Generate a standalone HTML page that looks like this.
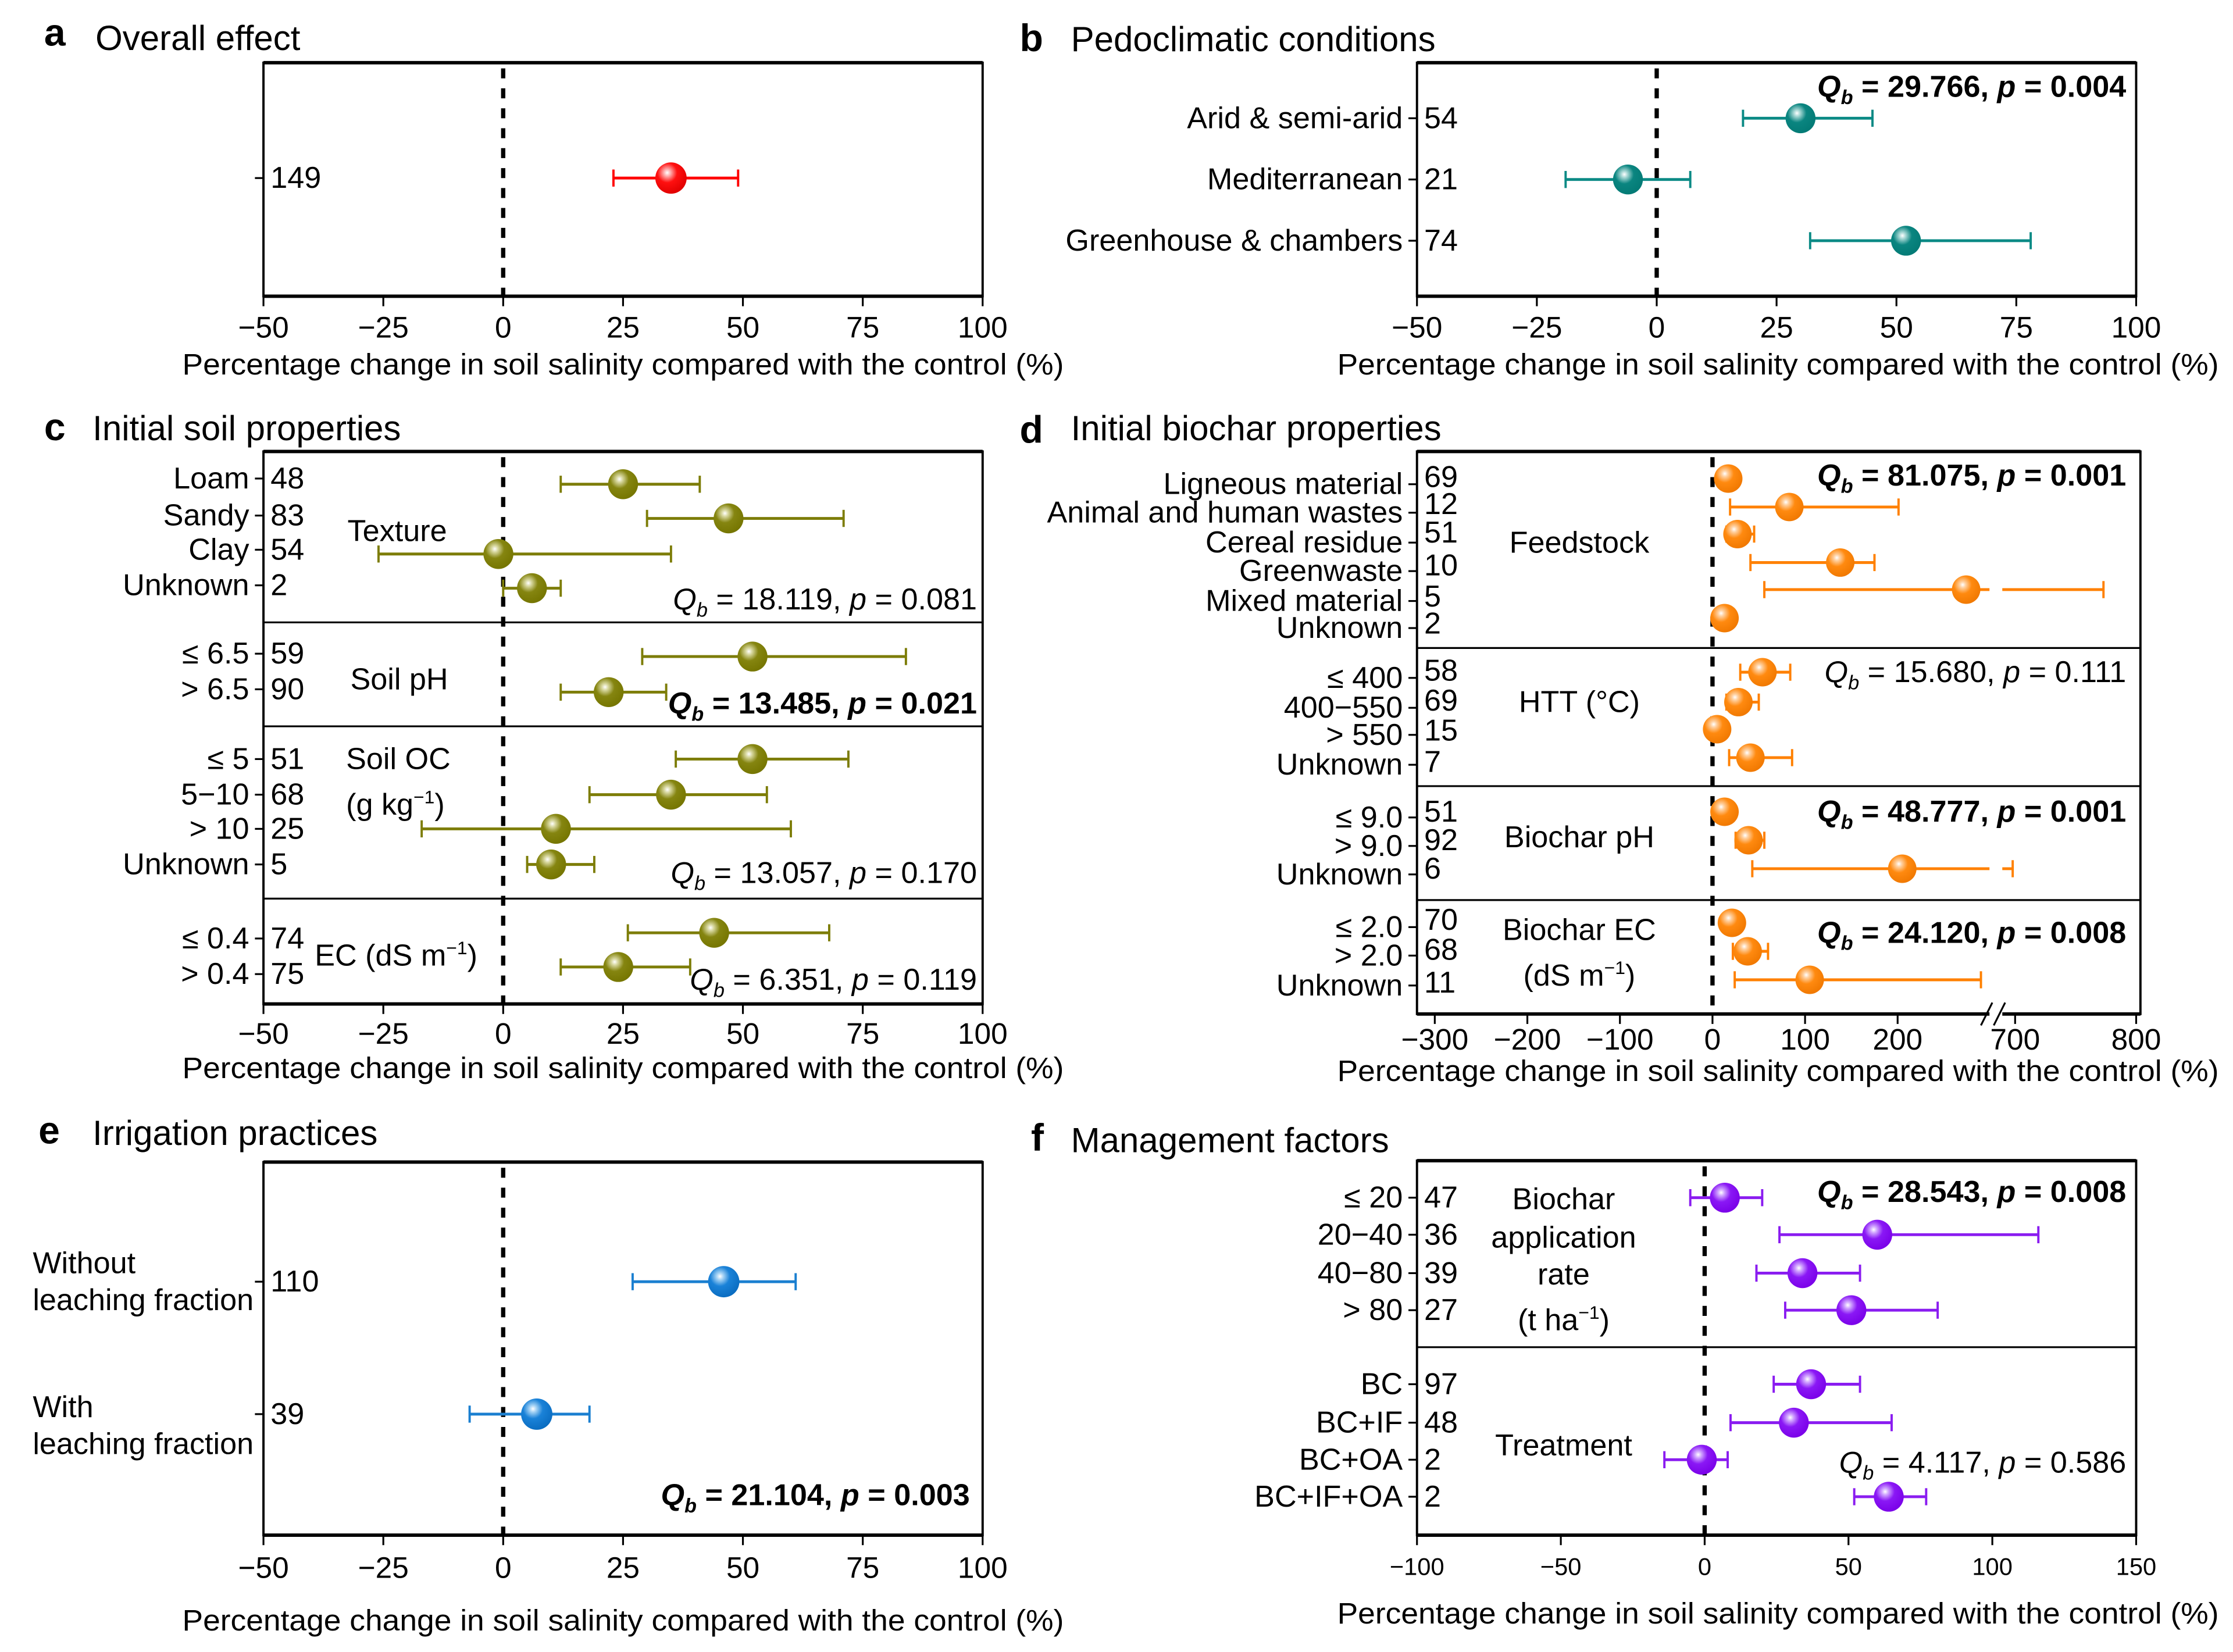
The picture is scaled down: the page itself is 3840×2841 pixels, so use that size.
<!DOCTYPE html>
<html><head><meta charset="utf-8"><style>
html,body{margin:0;padding:0;background:#fff;}
svg{display:block;font-family:"Liberation Sans",Arial,sans-serif;}
text{fill:#000;}
</style></head><body>
<svg id="fig" width="3840" height="2841" viewBox="0 0 1568 1160" xmlns="http://www.w3.org/2000/svg">
<defs>
<radialGradient id="g-red" cx="0.38" cy="0.33" r="0.7"><stop offset="0" stop-color="#fff"/><stop offset="0.15" stop-color="#ffb0b0"/><stop offset="0.45" stop-color="#ff1010"/><stop offset="1" stop-color="#e00000"/></radialGradient>
<radialGradient id="g-teal" cx="0.38" cy="0.33" r="0.7"><stop offset="0" stop-color="#fff"/><stop offset="0.15" stop-color="#a8d8d5"/><stop offset="0.45" stop-color="#0a8580"/><stop offset="1" stop-color="#037a75"/></radialGradient>
<radialGradient id="g-olive" cx="0.38" cy="0.33" r="0.7"><stop offset="0" stop-color="#fff"/><stop offset="0.15" stop-color="#d8d8a0"/><stop offset="0.45" stop-color="#858510"/><stop offset="1" stop-color="#757500"/></radialGradient>
<radialGradient id="g-orange" cx="0.38" cy="0.33" r="0.7"><stop offset="0" stop-color="#fff"/><stop offset="0.15" stop-color="#ffd0a0"/><stop offset="0.45" stop-color="#ff8a10"/><stop offset="1" stop-color="#f07800"/></radialGradient>
<radialGradient id="g-blue" cx="0.38" cy="0.33" r="0.7"><stop offset="0" stop-color="#fff"/><stop offset="0.15" stop-color="#a8d4f5"/><stop offset="0.45" stop-color="#1a82d8"/><stop offset="1" stop-color="#0a6cc0"/></radialGradient>
<radialGradient id="g-purple" cx="0.38" cy="0.33" r="0.7"><stop offset="0" stop-color="#fff"/><stop offset="0.15" stop-color="#d2a8ff"/><stop offset="0.45" stop-color="#8a18f5"/><stop offset="1" stop-color="#7a00e8"/></radialGradient>
</defs>

<!-- Panel titles -->
<text x="31" y="32" font-size="27" font-weight="bold">a</text>
<text x="67" y="35" font-size="24.5">Overall effect</text>
<text x="716" y="36" font-size="27" font-weight="bold">b</text>
<text x="752" y="36" font-size="24.5">Pedoclimatic conditions</text>
<text x="31" y="309" font-size="27" font-weight="bold">c</text>
<text x="65" y="309" font-size="24.5">Initial soil properties</text>
<text x="716" y="311" font-size="27" font-weight="bold">d</text>
<text x="752" y="309" font-size="24.5">Initial biochar properties</text>
<text x="27" y="803" font-size="27" font-weight="bold">e</text>
<text x="65" y="804" font-size="24.5">Irrigation practices</text>
<text x="724" y="808" font-size="27" font-weight="bold">f</text>
<text x="752" y="809" font-size="24.5">Management factors</text>

<!-- Axis titles -->
<text x="128" y="263" font-size="21" textLength="619" lengthAdjust="spacingAndGlyphs">Percentage change in soil salinity compared with the control (%)</text>
<text x="939" y="263" font-size="21" textLength="619" lengthAdjust="spacingAndGlyphs">Percentage change in soil salinity compared with the control (%)</text>
<text x="128" y="757" font-size="21" textLength="619" lengthAdjust="spacingAndGlyphs">Percentage change in soil salinity compared with the control (%)</text>
<text x="939" y="759" font-size="21" textLength="619" lengthAdjust="spacingAndGlyphs">Percentage change in soil salinity compared with the control (%)</text>
<text x="128" y="1145" font-size="21" textLength="619" lengthAdjust="spacingAndGlyphs">Percentage change in soil salinity compared with the control (%)</text>
<text x="939" y="1140" font-size="21" textLength="619" lengthAdjust="spacingAndGlyphs">Percentage change in soil salinity compared with the control (%)</text>

<!-- Group labels -->
<g font-size="21.3">
<text x="244" y="380">Texture</text>
<text x="246" y="484">Soil pH</text>
<text x="243" y="540">Soil OC</text>
<text x="243" y="572">(g kg<tspan font-size="13" dy="-8">−1</tspan><tspan dy="8">)</tspan></text>
<text x="221" y="678">EC (dS m<tspan font-size="13" dy="-8">−1</tspan><tspan dy="8">)</tspan></text>
<text x="1109" y="388" text-anchor="middle">Feedstock</text>
<text x="1109" y="500" text-anchor="middle">HTT (°C)</text>
<text x="1109" y="595" text-anchor="middle">Biochar pH</text>
<text x="1109" y="660" text-anchor="middle">Biochar EC</text>
<text x="1109" y="692" text-anchor="middle">(dS m<tspan font-size="13" dy="-8">−1</tspan><tspan dy="8">)</tspan></text>
<text x="1098" y="849" text-anchor="middle">Biochar</text>
<text x="1098" y="876" text-anchor="middle">application</text>
<text x="1098" y="902" text-anchor="middle">rate</text>
<text x="1098" y="934" text-anchor="middle">(t ha<tspan font-size="13" dy="-8">−1</tspan><tspan dy="8">)</tspan></text>
<text x="1098" y="1022" text-anchor="middle">Treatment</text>
<text x="23" y="894">Without</text>
<text x="23" y="920">leaching fraction</text>
<text x="23" y="995">With</text>
<text x="23" y="1021">leaching fraction</text>
</g>

<!-- Stats -->
<g font-size="21.3">
<text x="1493" y="68" text-anchor="end" font-weight="bold"><tspan font-style="italic">Q</tspan><tspan font-style="italic" font-size="14" dy="5">b</tspan><tspan dy="-5"> = 29.766, </tspan><tspan font-style="italic">p</tspan> = 0.004</text>
<text x="686" y="428" text-anchor="end"><tspan font-style="italic">Q</tspan><tspan font-style="italic" font-size="14" dy="5">b</tspan><tspan dy="-5"> = 18.119, </tspan><tspan font-style="italic">p</tspan> = 0.081</text>
<text x="686" y="501" text-anchor="end" font-weight="bold"><tspan font-style="italic">Q</tspan><tspan font-style="italic" font-size="14" dy="5">b</tspan><tspan dy="-5"> = 13.485, </tspan><tspan font-style="italic">p</tspan> = 0.021</text>
<text x="686" y="620" text-anchor="end"><tspan font-style="italic">Q</tspan><tspan font-style="italic" font-size="14" dy="5">b</tspan><tspan dy="-5"> = 13.057, </tspan><tspan font-style="italic">p</tspan> = 0.170</text>
<text x="686" y="695" text-anchor="end"><tspan font-style="italic">Q</tspan><tspan font-style="italic" font-size="14" dy="5">b</tspan><tspan dy="-5"> = 6.351, </tspan><tspan font-style="italic">p</tspan> = 0.119</text>
<text x="1493" y="341" text-anchor="end" font-weight="bold"><tspan font-style="italic">Q</tspan><tspan font-style="italic" font-size="14" dy="5">b</tspan><tspan dy="-5"> = 81.075, </tspan><tspan font-style="italic">p</tspan> = 0.001</text>
<text x="1493" y="479" text-anchor="end"><tspan font-style="italic">Q</tspan><tspan font-style="italic" font-size="14" dy="5">b</tspan><tspan dy="-5"> = 15.680, </tspan><tspan font-style="italic">p</tspan> = 0.111</text>
<text x="1493" y="577" text-anchor="end" font-weight="bold"><tspan font-style="italic">Q</tspan><tspan font-style="italic" font-size="14" dy="5">b</tspan><tspan dy="-5"> = 48.777, </tspan><tspan font-style="italic">p</tspan> = 0.001</text>
<text x="1493" y="662" text-anchor="end" font-weight="bold"><tspan font-style="italic">Q</tspan><tspan font-style="italic" font-size="14" dy="5">b</tspan><tspan dy="-5"> = 24.120, </tspan><tspan font-style="italic">p</tspan> = 0.008</text>
<text x="681" y="1057" text-anchor="end" font-weight="bold"><tspan font-style="italic">Q</tspan><tspan font-style="italic" font-size="14" dy="5">b</tspan><tspan dy="-5"> = 21.104, </tspan><tspan font-style="italic">p</tspan> = 0.003</text>
<text x="1493" y="844" text-anchor="end" font-weight="bold"><tspan font-style="italic">Q</tspan><tspan font-style="italic" font-size="14" dy="5">b</tspan><tspan dy="-5"> = 28.543, </tspan><tspan font-style="italic">p</tspan> = 0.008</text>
<text x="1493" y="1034" text-anchor="end"><tspan font-style="italic">Q</tspan><tspan font-style="italic" font-size="14" dy="5">b</tspan><tspan dy="-5"> = 4.117, </tspan><tspan font-style="italic">p</tspan> = 0.586</text>
</g>
</svg>
<script>
// ---- Data (percentage change; estimate, lower CI, upper CI) ----
var aLabels=[""]; var aN=["149"]; var aEst=[35]; var aLo=[23]; var aHi=[49];
var bLabels=["Arid & semi-arid","Mediterranean","Greenhouse & chambers"]; var bN=["54","21","74"];
var bEst=[30,-6,52]; var bLo=[18,-19,32]; var bHi=[45,7,78];
var cLabels=["Loam","Sandy","Clay","Unknown","≤ 6.5","> 6.5","≤ 5","5−10","> 10","Unknown","≤ 0.4","> 0.4"];
var cN=["48","83","54","2","59","90","51","68","25","5","74","75"];
var cEst=[25,47,-1,6,52,22,52,35,11,10,44,24];
var cLo=[12,30,-26,0,29,12,36,18,-17,5,26,12];
var cHi=[41,71,35,12,84,34,72,55,60,19,68,39];
var dLabels=["Ligneous material","Animal and human wastes","Cereal residue","Greenwaste","Mixed material","Unknown","≤ 400","400−550","> 550","Unknown","≤ 9.0","> 9.0","Unknown","≤ 2.0","> 2.0","Unknown"];
var dN=["69","12","51","10","5","2","58","69","15","7","51","92","6","70","68","11"];
var dEst=[17,83,27,138,274,13,54,28,5,41,13,39,205,21,38,105];
var dLo=[10,19,15,41,56,5,30,15,0,18,5,25,43,12,22,24];
var dHi=[25,201,45,175,773,20,84,50,10,86,22,56,698,30,60,290];
var eLabels=["",""]; var eN=["110","39"]; var eEst=[46,7]; var eLo=[27,-7]; var eHi=[61,18];
var fLabels=["≤ 20","20−40","40−80","> 80","BC","BC+IF","BC+OA","BC+IF+OA"];
var fN=["47","36","39","27","97","48","2","2"];
var fEst=[7,60,34,51,37,31,-1,64]; var fLo=[-5,26,18,28,24,9,-14,52]; var fHi=[20,116,54,81,54,65,8,77];
var ticksLin=[-50,-25,0,25,50,75,100];
var ticksD=[-300,-200,-100,0,100,200,700,800];
var ticksF=[-100,-50,0,50,100,150];

var NS="http://www.w3.org/2000/svg";
var svg=document.getElementById('fig');
function mk(tag,at,parent){var e=document.createElementNS(NS,tag);for(var k in at)e.setAttribute(k,at[k]);(parent||svg).appendChild(e);return e;}
function lin(x0,x1,v0,v1){return function(v){return x0+(v-v0)*(x1-x0)/(v1-v0);};}
function scaleD(v){return v<=300?1202.5+v*0.65:1415+(v-700)*0.85;}

var panels=[
 {id:'a',L:185,R:690,T:44,B:208,x:lin(185,690,-50,100),ticks:ticksLin,tfs:21,ty:237,col:'#ff0000',grad:'g-red',labels:aLabels,n:aN,est:aEst,lo:aLo,hi:aHi,
  cy:[125],ly:[125],seps:[],r:11},
 {id:'b',L:995,R:1500,T:44,B:208,x:lin(995,1500,-50,100),ticks:ticksLin,tfs:21,ty:237,col:'#0b8a85',grad:'g-teal',labels:bLabels,n:bN,est:bEst,lo:bLo,hi:bHi,
  cy:[83,126,169],ly:[83,126,169],seps:[],r:10.5},
 {id:'c',L:185,R:690,T:317,B:705,x:lin(185,690,-50,100),ticks:ticksLin,tfs:21,ty:733,col:'#7d7d08',grad:'g-olive',labels:cLabels,n:cN,est:cEst,lo:cLo,hi:cHi,
  cy:[340,364,389,413,461,486,533,558,582,607,655,679],ly:[336,362,386,411,459,484,533,558,582,607,659,684],seps:[437,510,631],r:10.5},
 {id:'d',L:995,R:1503,T:317,B:712,x:scaleD,ticks:ticksD,tfs:21,ty:737,col:'#ff8000',grad:'g-orange',labels:dLabels,n:dN,est:dEst,lo:dLo,hi:dHi,
  cy:[336,356,375,395,414,434,472,493,512,532,570,590,610,648,668,688],ly:[340,360,381,401,422,441,476,497,516,537,574,594,614,651,671,692],
  ny:[335,354,374,397,419,438,471,492,513,535,570,590,610,646,667,690],seps:[455,552,632],r:10,brk:true},
 {id:'e',L:185,R:690,T:816,B:1078,x:lin(185,690,-50,100),ticks:ticksLin,tfs:21,ty:1108,col:'#1a7fd0',grad:'g-blue',labels:eLabels,n:eN,est:eEst,lo:eLo,hi:eHi,
  cy:[900,993],ly:[900,993],seps:[],r:11},
 {id:'f',L:995,R:1500,T:815,B:1078,x:lin(995,1500,-100,150),ticks:ticksF,tfs:17,ty:1106,col:'#8a1cf0',grad:'g-purple',labels:fLabels,n:fN,est:fEst,lo:fLo,hi:fHi,
  cy:[841,867,894,920,972,999,1025,1051],ly:[841,867,894,920,972,999,1025,1051],seps:[946],r:10.5}
];

panels.forEach(function(p){
  var g=mk('g',{});
  
  
  var fr=mk('rect',{x:p.L,y:p.T,width:p.R-p.L,height:p.B-p.T,fill:'none',stroke:'#000','stroke-width':1.6},g);
  
  
  var tb=mk('line',{x1:p.L,x2:p.R,y1:p.T,y2:p.T,stroke:'#000','stroke-width':2.4},g);
  
  
  var bb=mk('line',{x1:p.L,x2:p.R,y1:p.B,y2:p.B,stroke:'#000','stroke-width':2.4},g);
  
  
  p.seps.forEach(function(sy){
    var s=mk('line',{x1:p.L,x2:p.R,y1:sy,y2:sy,stroke:'#000','stroke-width':1.3},g);
    
    
  });
  var z=mk('line',{x1:p.x(0),x2:p.x(0),y1:p.T+4,y2:p.B,stroke:'#000','stroke-width':3,'stroke-dasharray':'7 7'},g);
  
  
  p.ticks.forEach(function(t){
    var tx=p.x(t);
    var tl=mk('line',{x1:tx,x2:tx,y1:p.B,y2:p.B+7,stroke:'#000','stroke-width':1.3},g);
    
    
    var tt=mk('text',{x:tx,y:p.ty,'font-size':p.tfs,'text-anchor':'middle'},g);
    tt.textContent=(t<0?'−'+Math.abs(t):String(t));
    
    
  });
  if(p.brk){
    var w=mk('rect',{x:1397,y:p.B-3,width:9,height:6,fill:'#fff'},g);
    
    
    var b1=mk('line',{x1:1391,y1:p.B+8,x2:1399,y2:p.B-8,stroke:'#000','stroke-width':1.3},g);
    
    
    var b2=mk('line',{x1:1400,y1:p.B+8,x2:1408,y2:p.B-8,stroke:'#000','stroke-width':1.3},g);
    
    
  }
  for(var i=0;i<p.est.length;i++){
    var y=p.cy[i];
    var yt=mk('line',{x1:p.L-6,x2:p.L,y1:p.ly[i],y2:p.ly[i],stroke:'#000','stroke-width':1.3},g);
    
    
    if(p.labels[i]){
      var lt=mk('text',{x:p.L-10,y:p.ly[i],'font-size':21.3,'text-anchor':'end','dominant-baseline':'central'},g);
      lt.textContent=p.labels[i];
      
      
    }
    var nt=mk('text',{x:p.L+5,y:(p.ny?p.ny[i]:p.ly[i]),'font-size':21.3,'dominant-baseline':'central'},g);
    nt.textContent=p.n[i];
    
    
    var x0=p.x(p.lo[i]), x1=p.x(p.hi[i]);
    var segs=[[x0,x1]];
    if(p.brk && p.hi[i]>300){segs=[[x0,1397],[1406,x1]];}
    segs.forEach(function(s){
      var el=mk('line',{x1:s[0],x2:s[1],y1:y,y2:y,stroke:p.col,'stroke-width':2},g);
      
      
    });
    [x0,x1].forEach(function(cx){
      var cap=mk('line',{x1:cx,x2:cx,y1:y-6,y2:y+6,stroke:p.col,'stroke-width':1.6},g);
      
      
    });
    var c=mk('circle',{cx:p.x(p.est[i]),cy:y,r:p.r,fill:'url(#'+p.grad+')'},g);
    
    
  }
});
</script>
</body></html>
